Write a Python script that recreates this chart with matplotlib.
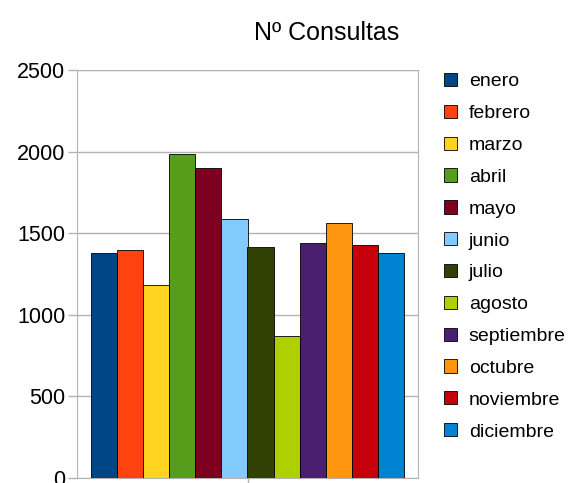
import matplotlib
matplotlib.use("Agg")
from matplotlib import pyplot as plt
from matplotlib.patches import Patch

months = ["enero", "febrero", "marzo", "abril", "mayo", "junio", "julio",
          "agosto", "septiembre", "octubre", "noviembre", "diciembre"]
consultas = [1380, 1400, 1185, 1985, 1900, 1585, 1415, 870, 1440, 1560, 1425, 1380]
colors = ["#004586", "#ff420e", "#ffd320", "#579d1c", "#7e0021", "#83caff",
          "#314004", "#aecf00", "#4b1f6f", "#ff950e", "#c5000b", "#0084d1"]
yticks = [0, 500, 1000, 1500, 2000, 2500]

plt.rcParams["font.family"] = ["Liberation Sans", "DejaVu Sans"]

fig = plt.figure(figsize=(5.76, 4.83), dpi=100)
ax = fig.add_axes([77 / 576, 1 - 478 / 483, 341 / 576, 408 / 483])

group = 0.918
w = group / len(months)
for i, (m, v, c) in enumerate(zip(months, consultas, colors)):
    x = -group / 2 + w * (i + 0.5)
    ax.bar(x, v, width=w, color=c, edgecolor="black", linewidth=0.6, zorder=3)

ax.set_xlim(-0.5, 0.5)
ax.set_ylim(0, 2500)
ax.set_yticks(yticks)
ax.set_xticks([0])
ax.set_xticklabels([""])
ax.tick_params(axis="both", colors="#b3b3b3", length=6.5, width=1)
ax.tick_params(axis="y", labelcolor="black", labelsize=15.5, pad=2)
ax.grid(axis="y", color="#b3b3b3", linewidth=1, zorder=0)
for s in ax.spines.values():
    s.set_color("#b3b3b3")

fig.text(327 / 576, 1 - 33 / 483, "Nº Consultas", ha="center", va="center", fontsize=18)

handles = [Patch(facecolor=c, edgecolor="black", linewidth=0.6) for c in colors]
fig.legend(handles, months, loc="upper left", bbox_to_anchor=(444 / 576, 1 - 73 / 483),
           frameon=False, fontsize=14, handlelength=0.67, handleheight=0.67,
           handletextpad=0.6, labelspacing=0.74, borderaxespad=0, borderpad=0)

fig.savefig("out.png", dpi=100)
